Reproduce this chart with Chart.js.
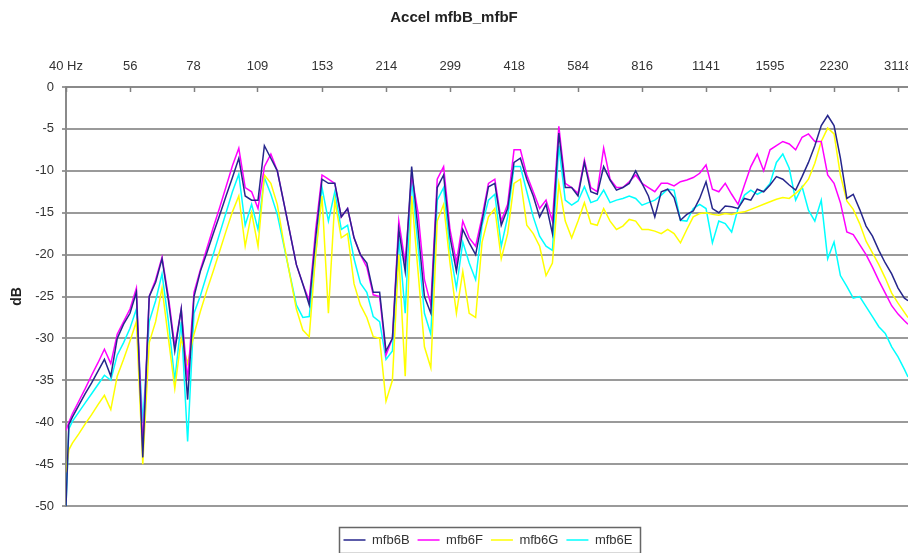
<!DOCTYPE html>
<html>
<head>
<meta charset="utf-8">
<script src="https://cdn.jsdelivr.net/npm/chart.js"></script>
<style>
  html, body { margin: 0; padding: 0; background: #ffffff; }
  #wrap { width: 908px; height: 553px; }
</style>
</head>
<body>
<div id="wrap"><canvas id="c" width="908" height="553"></canvas></div>
<script>
// ---- data ----
const freqs = [40, 40.6, 41.36, 42.77, 44.23, 45.74, 47.30, 48.91, 50.57, 52.30, 54.08,
  55.92, 57.82, 59.79, 61.84, 63.95, 66.13, 68.38, 70.70, 73.12, 75.61,
  78.18, 80.83, 83.59, 86.45, 89.40, 92.45, 95.60, 98.84, 102.2, 105.7,
  109.3, 113.0, 116.9, 120.9, 125.0, 129.2, 133.6, 138.2, 142.9, 147.8,
  152.8, 158.0, 163.4, 169.0, 174.7, 180.7, 186.8, 193.2, 199.8, 206.6,
  213.6, 220.9, 228.4, 236.2, 244.3, 252.6, 261.2, 270.1, 279.3, 288.8,
  298.6, 308.8, 319.3, 330.2, 341.5, 353.2, 365.2, 377.6, 390.5, 403.8,
  417.5, 431.7, 446.4, 461.7, 477.4, 493.7, 510.5, 527.9, 545.9, 564.6,
  583.7, 603.5, 624.1, 645.5, 667.5, 690.3, 713.8, 738.0, 763.2, 789.3,
  816.0, 843.7, 872.5, 902.4, 933.2, 965.0, 997.8, 1031.7, 1067.0, 1103.5,
  1140.8, 1179.5, 1219.8, 1261.5, 1304.6, 1349.1, 1395.0, 1442.3, 1491.7, 1542.7,
  1594.9, 1649.0, 1705.3, 1763.6, 1823.8, 1886.1, 1950.3, 2016.4, 2085.4, 2156.7,
  2229.8, 2305.3, 2384.1, 2465.7, 2549.8, 2636.8, 2726.6, 2819.0, 2915.5, 3015.1,
  3117.3, 3222.9, 3284];

const mfb6B = [-50, -40.3, -39.4, -38.0, -36.6, -35.3, -33.9, -32.5, -34.5, -30, -28.3, -27,
  -24.5, -44.2, -25.0, -23.3, -20.5, -25.5, -31.5, -26.5, -37.3, -25.0,
  -22.0, -19.8, -17.5, -15.3, -13.0, -10.8, -8.5, -13, -13.5, -13.5,
  -7.0, -8.5, -10.0, -13.7, -17.4, -21.2, -23.5, -26.0, -18, -11,
  -11.5, -11.5, -15.5, -14.5, -18, -20, -21, -24.5, -24.5, -31.5,
  -30, -17, -22, -9.5, -17, -25, -27, -12, -10.5, -17.9,
  -22, -17, -18.6, -20, -16, -11.9, -11.5, -16.5, -14.5, -9,
  -8.5, -11, -13, -15.5, -14, -17.5, -5.5, -12, -12, -13,
  -9, -12.5, -12.8, -9.5, -11.1, -12.3, -12, -11.5, -10, -11.5,
  -13, -15.5, -12.5, -12.2, -13.2, -15.9, -15.2, -14.8, -13.3, -11.3,
  -14.5, -15, -14.2, -14.3, -14.5, -13.3, -13.5, -12.2, -12.5, -11.7,
  -10.7, -11, -11.7, -12.3, -10.7, -9, -7, -4.6, -3.4, -4.6,
  -8.5, -13.3, -12.8, -14.6, -16.6, -17.8, -19.5, -21, -22.3, -24,
  -25.2, -25.5];

const mfb6F = [-41, -40, -39.0, -37.5, -36, -34.4, -32.9, -31.3, -33, -29.5, -28, -26.5,
  -24, -43, -25, -23, -20.3, -25, -31, -26.5, -35, -24.5,
  -21.8, -19.3, -16.8, -14.4, -11.9, -9.4, -7.3, -12, -12.5, -14.5,
  -9.5, -8.0, -10, -13.7, -17.4, -21.2, -23.5, -25.5, -17, -10.5,
  -11, -11.5, -15.5, -14.5, -18, -20, -21.5, -24.8, -25, -32,
  -30, -16, -21, -10.5, -15, -23, -26, -11, -9.5, -17,
  -21, -16, -18, -19, -15.5, -11.5, -11, -16, -14, -7.5,
  -7.5, -10.5, -12.5, -14.5, -13.5, -16, -4.7, -11.5, -12, -12.7,
  -8.7, -12, -12.5, -7.3, -11, -12, -12, -11.3, -10.5, -11.5,
  -12, -12.5, -11.5, -11.5, -11.8, -11.3, -11.1, -10.8, -10.3, -9.3,
  -12.2, -12.5, -11.5, -12.8, -14.0, -11.7, -9.5, -8, -10, -7.5,
  -7, -6.5, -6.8, -7.5, -6, -5.6, -6.5, -6.5, -10.5, -11.5,
  -13.8, -17.3, -17.6, -18.8, -20, -21.5, -23.1, -24.6, -26.1, -27.1,
  -27.9, -28.3];

const mfb6G = [-46, -43.3, -42.5, -41.4, -40.2, -39.1, -37.9, -36.8, -38.5, -34.5, -32.5, -30.3,
  -28, -45, -30.5, -28, -24, -30, -36, -30, -33, -29.5,
  -26.8, -24.3, -22, -19.6, -17.2, -14.9, -13, -19, -15, -19,
  -10.5, -11.5, -14, -18.5, -22.5, -26.5, -29, -29.8, -20, -13,
  -27, -13.5, -18, -17.5, -23.5, -26, -27.5, -29.8, -30, -37.5,
  -35, -20, -34.5, -13, -22, -31, -33.5, -16, -14, -21,
  -27, -22, -27, -27.5, -18.5, -15.5, -14.5, -20.5, -17.5, -11.5,
  -11, -16.5, -17.5, -19, -22.5, -21, -11.5, -16, -18, -16,
  -13.8, -16.3, -16.5, -14.5, -16, -17, -16.6, -15.8, -16, -17,
  -17, -17.2, -17.5, -17, -17.5, -18.6, -17, -15.5, -15.1, -15,
  -15.2, -15.3, -15.1, -15.2, -15, -14.9, -14.6, -14.3, -14, -13.7,
  -13.4, -13.2, -13.3, -12.7, -12, -11, -9.1, -6.5, -4.9, -5.6,
  -10.5, -13.6, -14.6, -16.3, -18.4, -19.8, -21.2, -22.8, -24.6, -25.8,
  -26.9, -27.5];

const mfb6E = [-50, -40.8, -39.9, -38.8, -37.7, -36.6, -35.5, -34.4, -35, -32, -30.5, -28.8,
  -26.5, -40, -28, -25.5, -22.3, -28, -35, -28, -42.3, -27,
  -24.9, -22.4, -20, -17.5, -15, -12.5, -10.4, -16.5, -14, -17,
  -10.8, -12.8, -15.2, -18.8, -22.4, -26, -27.5, -27.4, -20, -12,
  -16, -12.5, -17, -16.5, -20.5, -23.4, -24.5, -27.4, -28, -32.5,
  -31.5, -18, -27, -11, -19, -27, -29.5, -13.5, -12, -19.5,
  -24, -18.5, -21, -23, -16.5, -13.5, -12.8, -19, -15.5, -9.5,
  -9.5, -12.5, -15.5, -17.8, -19, -19.5, -7, -13.5, -14.1, -13.6,
  -11.9, -13.8, -13.5, -12.3, -13.8, -13.5, -13.3, -13, -13.3, -14.1,
  -13.8, -13.5, -12.9, -12.2, -12.3, -15.9, -16, -14.5, -14, -14.5,
  -18.6, -16, -16.3, -17.3, -14.5, -12.9, -12.3, -12.8, -12.4, -11.5,
  -9, -8, -9.7, -13.5, -11.9, -14.7, -16, -13.5, -20.5, -18.5,
  -22.5, -23.8, -25.2, -25, -26.2, -27.4, -28.6, -29.4, -31, -32.2,
  -33.7, -34.6];

const tickValues = [40, 56, 78, 109, 153, 214, 299, 418, 584, 816, 1141, 1595, 2230, 3118];
const tickLabels = ['40 Hz', '56', '78', '109', '153', '214', '299', '418', '584', '816', '1141', '1595', '2230', '3118'];
const seriesNames = ['mfb6B', 'mfb6F', 'mfb6G', 'mfb6E'];
const seriesColors = ['#26268c', '#ff00ff', '#ffff00', '#00ffff'];
const seriesValues = [mfb6B, mfb6F, mfb6G, mfb6E];

// ---- chart ----
Chart.defaults.font.family = '"Liberation Sans", Arial, sans-serif';
Chart.defaults.color = '#333333';

const helper = {
  id: 'helper',
  afterLayout(chart) {
    const lg = chart.legend;
    if (!lg) return;
    const dy = 525.5 - lg.top;
    lg.top += dy; lg.bottom += dy;
    lg.left += 68;
  },
  afterDraw(chart) {
    const ctx = chart.ctx;
    const xs = chart.scales.x;
    const top = chart.chartArea.top;
    ctx.save();
    ctx.strokeStyle = '#808080';
    ctx.lineWidth = 1.5;
    tickValues.forEach(v => {
      const px = Math.round(xs.getPixelForValue(v)) + 0.5;
      ctx.beginPath();
      ctx.moveTo(px, top);
      ctx.lineTo(px, top + 5);
      ctx.stroke();
    });
    const hb = chart.legend && chart.legend.legendHitBoxes;
    if (hb && hb.length) {
      const l = Math.min(...hb.map(h => h.left)) - 5;
      const r = Math.max(...hb.map(h => h.left + h.width)) + 7;
      const t = hb[0].top - 7;
      const b = hb[0].top + hb[0].height + 6;
      ctx.strokeStyle = '#666666';
      ctx.lineWidth = 1.5;
      ctx.strokeRect(Math.round(l) + 0.5, Math.round(t) + 0.5, Math.round(r - l), Math.round(b - t));
    }
    ctx.restore();
  }
};

new Chart(document.getElementById('c'), {
  type: 'line',
  data: {
    datasets: seriesNames.map((name, i) => ({
      label: name,
      data: freqs.map((f, j) => ({ x: f, y: seriesValues[i][j] })),
      borderColor: seriesColors[i],
      backgroundColor: seriesColors[i],
      borderWidth: 1.5,
      pointRadius: 0,
      tension: 0,
      fill: false
    }))
  },
  options: {
    responsive: false,
    animation: false,
    devicePixelRatio: 1,
    layout: { padding: { left: 0, right: 0, top: 0, bottom: 16 } },
    plugins: {
      title: {
        display: true,
        text: 'Accel mfbB_mfbF',
        color: '#222222',
        font: { size: 15, weight: 'bold' },
        padding: { top: 9, bottom: 10 }
      },
      legend: {
        display: true,
        position: 'bottom',
        labels: {
          usePointStyle: true,
          pointStyle: 'line',
          pointStyleWidth: 22,
          padding: 8,
          color: '#333333',
          font: { size: 13 }
        }
      },
      tooltip: { enabled: false }
    },
    scales: {
      x: {
        type: 'logarithmic',
        position: 'top',
        min: 40,
        max: 3284,
        grid: { display: false, drawTicks: false },
        border: { display: true, color: '#8a8a8a', width: 2 },
        ticks: {
          autoSkip: false,
          maxRotation: 0,
          padding: 13,
          color: '#333333',
          font: { size: 13 },
          callback: (v, i) => tickLabels[i]
        },
        afterBuildTicks: s => { s.ticks = tickValues.map(v => ({ value: v })); },
        afterFit: s => { s.height = 50; s.paddingLeft = 0; s.paddingRight = 0; }
      },
      y: {
        min: -50,
        max: 0,
        ticks: { stepSize: 5, padding: 8, color: '#333333', font: { size: 13 } },
        grid: { color: '#9a9a9a', lineWidth: 2, tickLength: 4, drawTicks: true },
        border: { display: true, color: '#8a8a8a', width: 2 },
        title: {
          display: true,
          text: 'dB',
          color: '#222222',
          font: { size: 14, weight: 'bold' },
          padding: { top: 9, bottom: 0 }
        },
        afterFit: s => { s.width = 66; s.paddingTop = 0; s.paddingBottom = 0; }
      }
    }
  },
  plugins: [helper]
});
</script>
</body>
</html>
